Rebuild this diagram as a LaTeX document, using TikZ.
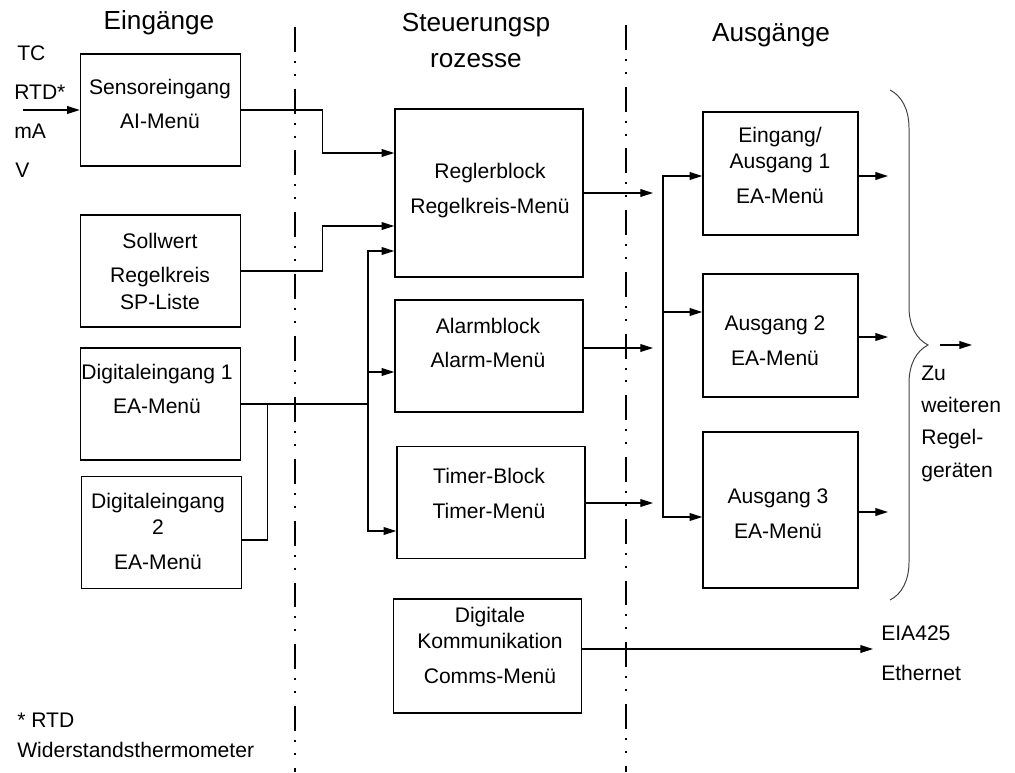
\documentclass[tikz,border=0pt]{standalone}
\usepackage{fontspec}
\setmainfont{Liberation Sans}
\usepackage{tikz}
\usetikzlibrary{arrows.meta}
\usetikzlibrary{decorations.pathreplacing}

\begin{document}
\begin{tikzpicture}[x=0.025cm, y=-0.025cm,
    block/.style={draw, line width=1pt, inner sep=0pt, minimum width=4cm, minimum height=2.8cm},
    txt/.style={inner sep=0pt, align=center, text depth=0pt, font=\fontsize{15}{18.8}\selectfont},
    kopf/.style={inner sep=0pt, align=center, text depth=0pt, font=\fontsize{18.6}{25.5}\selectfont},
    linie/.style={line width=0.9pt},
    pfeil/.style={line width=0.9pt, -{Triangle[length=9pt, width=5.5pt]}},
    grenze/.style={line width=2pt, dash pattern=on 17.7pt off 6.4pt on 1.4pt off 7.8pt on 1.4pt off 9.2pt},
    klammer/.style={decorate, decoration={brace, amplitude=0.95cm}, line width=0.7pt, black!75}]
    \useasboundingbox (0,0) rectangle (1015,772);

    \draw[grenze] (295,27) -- (295,772);
    \draw[grenze] (626,25) -- (626,772);

    \node[kopf, anchor=base] (eingaenge) at (159,29)   {Eingänge};
    \node[kopf]              (steuerung) at (476,40.5) {Steuerungsp\\rozesse};
    \node[kopf, anchor=base] (ausgaenge) at (771,41.5) {Ausgänge};

    \node[txt, anchor=base west] (tc)  at (17,60)  {TC};
    \node[txt, anchor=base west] (rtd) at (14,99)  {RTD*};
    \node[txt, anchor=base west] (ma)  at (14,138) {mA};
    \node[txt, anchor=base west] (v)   at (15,177) {V};

    % Eingaenge
    \node[block] (sens) at (160.5,110)   {};
    \node[block] (soll) at (160.5,271)   {};
    \node[block] (dig1) at (160.5,404)   {};
    \node[block] (dig2) at (161.5,532.5) {};
    \node[txt] (sens-t) at (160,104)   {Sensoreingang\\[5.7pt]AI-Menü};
    \node[txt] (soll-t) at (160,271)   {Sollwert\\[5.7pt]Regelkreis\\SP-Liste};
    \node[txt] (dig1-t) at (157,389)   {Digitaleingang 1\\[5.7pt]EA-Menü};
    \node[txt] (dig2-t) at (158,531)   {Digitaleingang\\2\\[5.7pt]EA-Menü};

    % Steuerungsprozesse
    \node[block, minimum width=4.7cm, minimum height=4.2cm]  (regler) at (489,193)   {};
    \node[block, minimum width=4.7cm]                        (alarm)  at (489,356)   {};
    \node[block, minimum width=4.7cm]                        (timer)  at (491,502.5) {};
    \node[block, minimum width=4.7cm, minimum height=2.85cm] (komm)   at (487.5,656) {};
    \node[txt] (regler-t) at (490,188.5) {Reglerblock\\[5.7pt]Regelkreis-Menü};
    \node[txt] (alarm-t)  at (488,343)   {Alarmblock\\[5.7pt]Alarm-Menü};
    \node[txt] (timer-t)  at (489,493.5) {Timer-Block\\[5.7pt]Timer-Menü};
    \node[txt] (komm-t)   at (490,645)   {Digitale\\Kommunikation\\[5.7pt]Comms-Menü};

    % Ausgaenge
    \node[block, minimum width=3.875cm, minimum height=3.075cm] (aus1) at (780.5,173.5) {};
    \node[block, minimum width=3.875cm, minimum height=3.075cm] (aus2) at (780.5,335.5) {};
    \node[block, minimum width=3.875cm, minimum height=3.9cm]   (aus3) at (780.5,510)   {};
    \node[txt] (aus1-t) at (780,165)   {Eingang/\\Ausgang 1\\[5.7pt]EA-Menü};
    \node[txt] (aus2-t) at (775,340.5) {Ausgang 2\\[5.7pt]EA-Menü};
    \node[txt] (aus3-t) at (778,513.5) {Ausgang 3\\[5.7pt]EA-Menü};

    \coordinate (sig)        at (23,110);
    \coordinate (knoten)     at (368,404);
    \coordinate (regler-aus) at (653,193);
    \coordinate (alarm-aus)  at (653,348);
    \coordinate (timer-aus)  at (653,503);
    \coordinate (verteiler)  at (663,312);
    \coordinate (aus1-ziel)  at (888,176);
    \coordinate (aus2-ziel)  at (888,337);
    \coordinate (aus3-ziel)  at (888,512);
    \coordinate (bus)        at (873,649);
    \coordinate (zu-a)       at (940,345);
    \coordinate (zu-b)       at (972,345);

    \draw[pfeil] (sig) -- (sens.west);
    \draw[pfeil] (sens.east) -- ++(81,0) |- ([yshift=1cm]regler.west);
    \draw[pfeil] (soll.east) -- ++(81,0) |- ([yshift=-0.825cm]regler.west);
    \draw[pfeil] (dig1.east) -- (knoten) |- ([yshift=-1.45cm]regler.west);
    \draw[pfeil] (knoten) |- ([yshift=-0.4cm]alarm.west);
    \draw[pfeil] (knoten) |- ([yshift=-0.7125cm]timer.west);
    \draw[linie] ([yshift=-0.19cm]dig2.east) -- ++(25,0) |- (dig1.east);

    \draw[pfeil] (regler.east) -- (regler-aus);
    \draw[pfeil] (alarm.east |- alarm-aus) -- (alarm-aus);
    \draw[pfeil] (timer.east |- timer-aus) -- (timer-aus);
    \draw[pfeil] (komm.east |- bus) -- (bus);

    \draw[pfeil] (verteiler) |- ([yshift=-0.0625cm]aus1.west);
    \draw[pfeil] (verteiler) -- (aus2.west |- verteiler);
    \draw[pfeil] (verteiler) |- ([yshift=-0.175cm]aus3.west);

    \draw[pfeil] (aus1.east |- aus1-ziel) -- (aus1-ziel);
    \draw[pfeil] (aus2.east |- aus2-ziel) -- (aus2-ziel);
    \draw[pfeil] (aus3.east |- aus3-ziel) -- (aus3-ziel);

    \draw[klammer] (890,90) -- (890,600);
    \draw[pfeil] (zu-a) -- (zu-b);
    \node[txt, align=left, anchor=west, font=\fontsize{15}{23}\selectfont] (zu) at (921,421.5) {Zu\\weiteren\\Regel-\\geräten};

    \node[txt, anchor=base west] (eia) at (881,640) {EIA425};
    \node[txt, anchor=base west] (eth) at (881,680) {Ethernet};

    \node[txt, anchor=base west] (stern) at (17,727) {* RTD};
    \node[txt, anchor=base west] (wth)   at (17,757) {Widerstandsthermometer};
\end{tikzpicture}
\end{document}
